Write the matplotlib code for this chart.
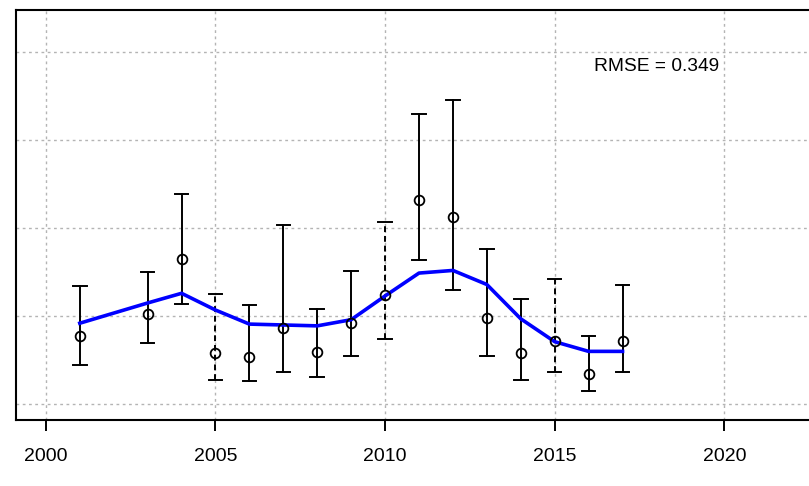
import matplotlib.pyplot as plt

plt.rcParams['font.family'] = ['Liberation Sans', 'DejaVu Sans']

# observed values with error bars
years = [2001, 2003, 2004, 2005, 2006, 2007, 2008, 2009, 2010,
         2011, 2012, 2013, 2014, 2015, 2016, 2017]
obs = [0.77, 1.02, 1.65, 0.58, 0.54, 0.86, 0.59, 0.92, 1.24,
       2.32, 2.13, 0.98, 0.58, 0.72, 0.34, 0.72]
upper = [1.34, 1.50, 2.39, 1.25, 1.13, 2.04, 1.08, 1.51, 2.07,
         3.30, 3.46, 1.76, 1.20, 1.42, 0.77, 1.36]
lower = [0.44, 0.69, 1.14, 0.27, 0.26, 0.36, 0.31, 0.55, 0.74,
         1.64, 1.30, 0.55, 0.28, 0.36, 0.15, 0.37]
dashed_years = [2005, 2010, 2015]

# fitted line
fit = [0.92, 1.15, 1.26, 1.07, 0.91, 0.90, 0.89, 0.96, 1.23,
       1.49, 1.52, 1.36, 0.97, 0.71, 0.60, 0.60]

rmse_label = "RMSE = 0.349"
xticks = [2000, 2005, 2010, 2015, 2020]

fig = plt.figure(figsize=(8.09, 4.86), dpi=100)
ax = fig.add_axes([16 / 809, 66 / 486, 806 / 809, 410 / 486])

ax.set_xlim(1999.12, 2022.88)
ax.set_ylim(-0.18, 4.48)

ax.set_xticks(xticks)
ax.set_yticks([0, 1, 2, 3, 4])
ax.grid(True, color='#b4b4b4', linestyle=(0, (2, 2.5)), linewidth=1)
ax.set_axisbelow(True)
ax.tick_params(axis='y', left=False, labelleft=False)
ax.tick_params(axis='x', length=8, width=1.4, labelsize=14, pad=12, direction='out')
for s in ax.spines.values():
    s.set_linewidth(1.5)

for x, y, lo, hi in zip(years, obs, lower, upper):
    ls = '--' if x in dashed_years else '-'
    ax.plot([x, x], [lo, hi], color='black', lw=1.4, linestyle=ls, dashes=(3, 2) if ls == '--' else (None, None), zorder=2)
    ax.plot([x - 0.2, x + 0.2], [hi, hi], color='black', lw=1.4, zorder=2)
    ax.plot([x - 0.2, x + 0.2], [lo, lo], color='black', lw=1.4, zorder=2)

ax.plot(years, fit, color='#0000ff', lw=2.6, zorder=3)
ax.plot(years, obs, 'o', mfc='none', mec='black', mew=1.3, ms=7, zorder=4)

ax.text(2018, 3.84, rmse_label, ha='center', va='center', fontsize=13.8)

fig.savefig('out.png', dpi=100)
